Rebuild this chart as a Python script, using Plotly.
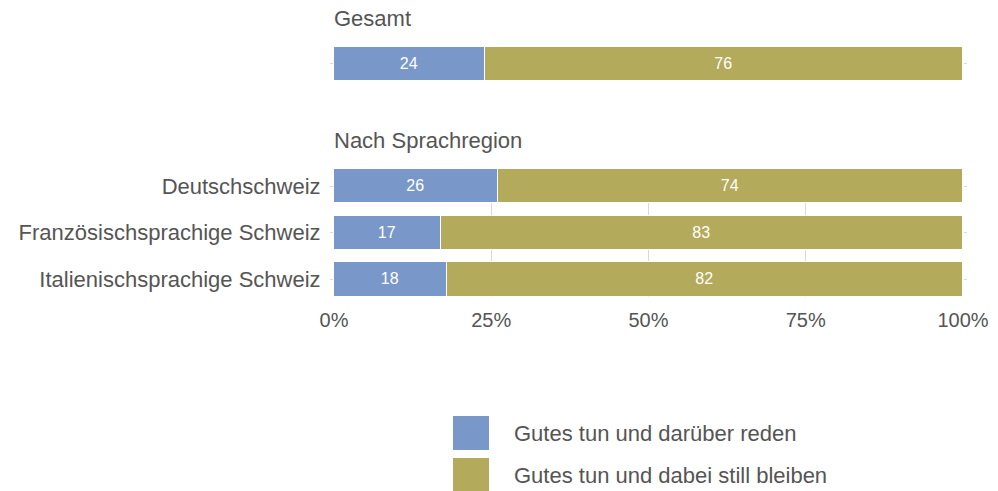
import plotly.graph_objects as go

# ---- data ----
series_names = ["Gutes tun und darüber reden", "Gutes tun und dabei still bleiben"]
series_colors = ["#7A97C9", "#B3AA5B"]

total_cat = ["Gesamt"]
total_reden = [24]
total_still = [76]

region_cats = ["Deutschschweiz", "Französischsprachige Schweiz", "Italienischsprachige Schweiz"]
region_reden = [26, 17, 18]
region_still = [74, 83, 82]

x_tickvals = [0, 25, 50, 75, 100]
x_ticktext = ["0%", "25%", "50%", "75%", "100%"]

panel_titles = ["Gesamt", "Nach Sprachregion"]

FONT = "Liberation Sans, Arial, sans-serif"
TXT = "#555555"
GRID = "#D9D9D9"
BW = 0.74

fig = go.Figure()

# Gesamt panel (x, y)
for name, vals, col in [(series_names[0], total_reden, series_colors[0]),
                        (series_names[1], total_still, series_colors[1])]:
    fig.add_trace(go.Bar(
        y=total_cat, x=vals, orientation="h", name=name, width=BW,
        marker=dict(color=col, line=dict(color="white", width=1.5)),
        text=vals, textposition="inside", insidetextanchor="middle",
        textfont=dict(color="white", size=16, family=FONT),
        showlegend=False, xaxis="x", yaxis="y", hoverinfo="x+name"))

# Regions panel (x2, y2)
for name, vals, col in [(series_names[0], region_reden, series_colors[0]),
                        (series_names[1], region_still, series_colors[1])]:
    fig.add_trace(go.Bar(
        y=region_cats, x=vals, orientation="h", name=name, width=BW,
        marker=dict(color=col, line=dict(color="white", width=1.5)),
        text=vals, textposition="inside", insidetextanchor="middle",
        textfont=dict(color="white", size=16, family=FONT),
        showlegend=False, xaxis="x2", yaxis="y2", hoverinfo="x+name"))

H = 491.0
def py(px):
    return 1 - px / H

x0_px, x1_px = 334, 963
def pxx(px):
    return (px - x0_px) / (x1_px - x0_px)

fig.update_layout(
    width=998, height=491,
    margin=dict(l=x0_px, r=998 - x1_px, t=0, b=0),
    paper_bgcolor="white", plot_bgcolor="white",
    barmode="stack", bargap=0,
    font=dict(family=FONT, color=TXT, size=22),
    xaxis=dict(domain=[0, 1], range=[0, 100], showgrid=False, showticklabels=False,
               zeroline=False, anchor="y", fixedrange=True),
    yaxis=dict(domain=[py(80.5), py(47)], range=[-BW / 2, BW / 2], showticklabels=False,
               ticks="outside", ticklen=3, tickcolor=GRID, mirror="ticks",
               showline=False, zeroline=False, anchor="x", fixedrange=True),
    xaxis2=dict(domain=[0, 1], range=[0, 100], tickvals=x_tickvals, ticktext=x_ticktext,
                showgrid=True, gridcolor=GRID, gridwidth=1, zeroline=False,
                tickfont=dict(size=20, color=TXT), ticklabelstandoff=9,
                anchor="y2", fixedrange=True),
    yaxis2=dict(domain=[py(296.5), py(169)], range=[len(region_cats) - 1 + BW / 2, -BW / 2],
                categoryorder="array", categoryarray=region_cats,
                ticks="outside", ticklen=3, tickcolor=GRID, mirror="ticks",
                tickfont=dict(size=22, color=TXT), ticklabelstandoff=5,
                showline=False, zeroline=False, anchor="x2", fixedrange=True),
)

# panel titles
for title, ypx in zip(panel_titles, [18, 140]):
    fig.add_annotation(text=title, xref="paper", yref="paper", x=pxx(332), y=py(ypx),
                       xanchor="left", yanchor="middle", showarrow=False,
                       font=dict(size=22, color=TXT, family=FONT))

# legend keys (manual, large squares)
for i, (name, col) in enumerate(zip(series_names, series_colors)):
    top = 416 + i * 42
    fig.add_shape(type="rect", xref="paper", yref="paper",
                  x0=pxx(453), x1=pxx(489), y0=py(top + 34), y1=py(top),
                  fillcolor=col, line=dict(width=0))
    fig.add_annotation(text=name, xref="paper", yref="paper", x=pxx(512), y=py(top + 17),
                       xanchor="left", yanchor="middle", showarrow=False,
                       font=dict(size=22, color=TXT, family=FONT))

fig.write_html("out.html", config={"displayModeBar": False},
               post_script="document.body.style.margin='0px';")
